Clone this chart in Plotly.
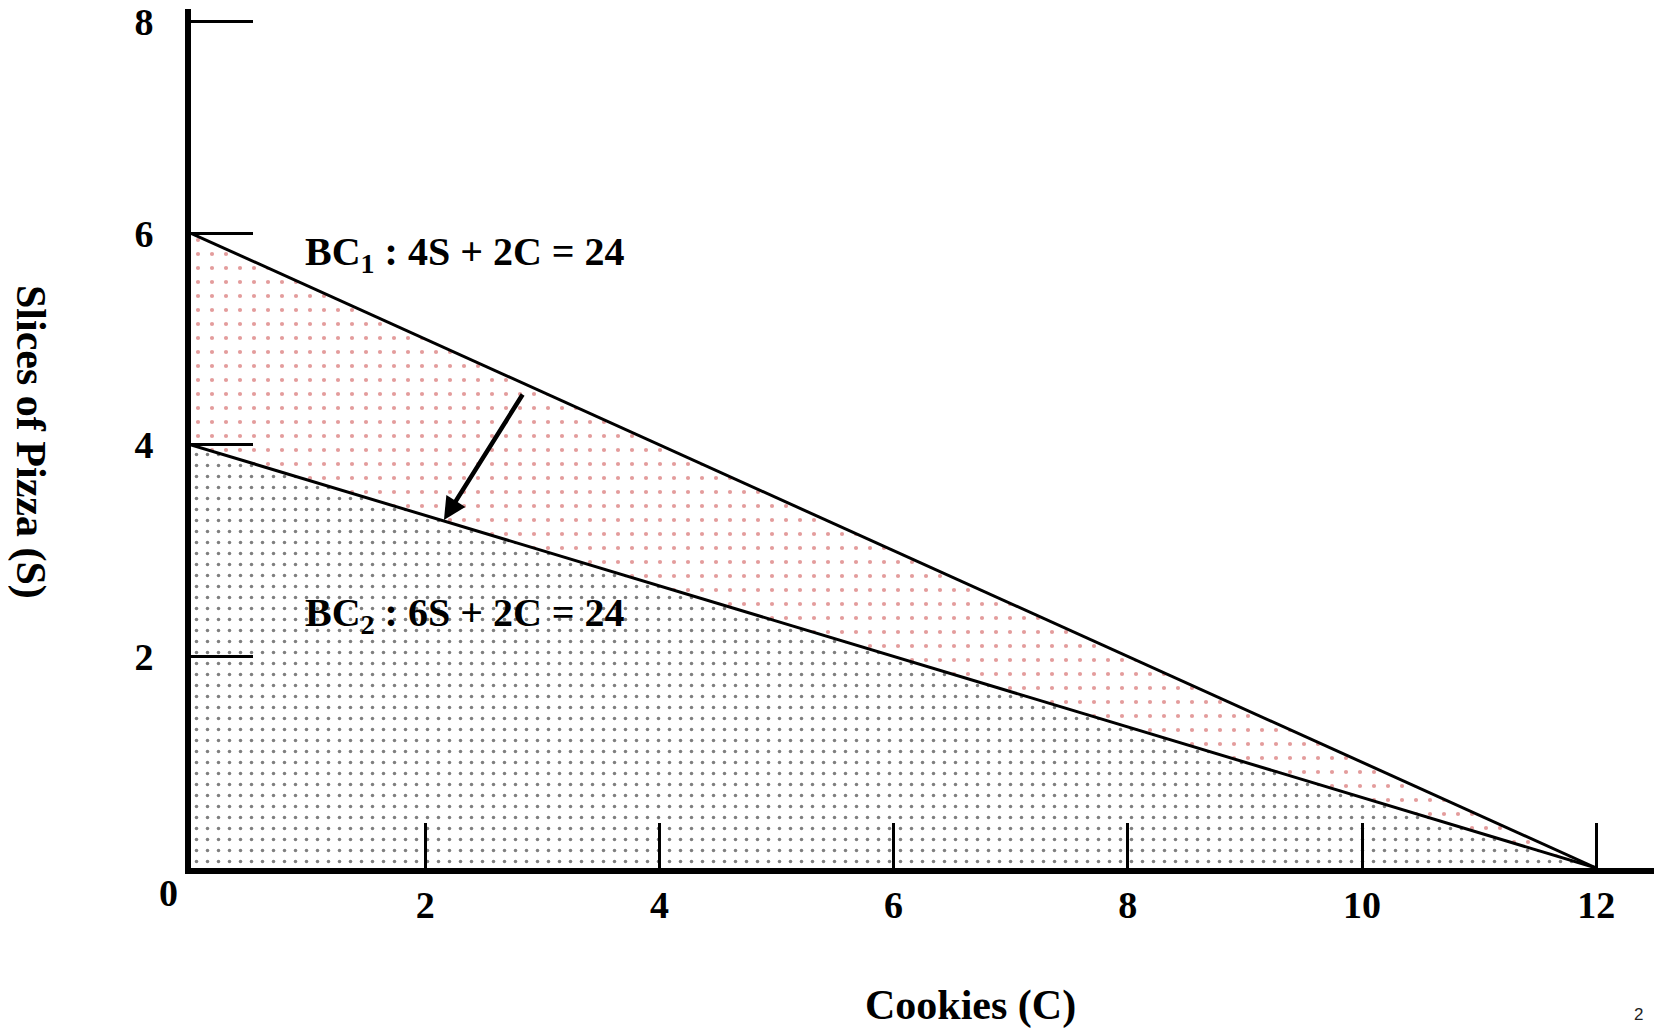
import plotly.graph_objects as go

# budget constraint end points (cookies on x, pizza slices on y)
cookies = [0, 12]
pizza_bc1 = [6, 0]
pizza_bc2 = [4, 0]

x_ticks = [2, 4, 6, 8, 10, 12]
y_ticks = [2, 4, 6, 8]

bc1_label = "BC<sub>1</sub> : 4S + 2C = 24"
bc2_label = "BC<sub>2</sub> : 6S + 2C = 24"

SERIF = "Liberation Serif"
RED = "#c83a3a"

# layout geometry (pixels, figure coords; page body adds 8px offset)
W, H = 1662, 1029
ML, MR, MT, MB = 183, 11, 1, 169
PW = W - ML - MR
PH = H - MT - MB
OFF = 8

fig = go.Figure()

fig.add_trace(go.Scatter(
    x=cookies, y=pizza_bc2, mode="lines",
    line=dict(color="black", width=3),
    fill="tozeroy", fillcolor="white",
    fillpattern=dict(shape=".", fgcolor="black", bgcolor="white",
                     size=11, solidity=0.08),
    showlegend=False, hoverinfo="skip"))

fig.add_trace(go.Scatter(
    x=cookies, y=pizza_bc1, mode="lines",
    line=dict(color="black", width=3),
    fill="tonexty", fillcolor="white",
    fillpattern=dict(shape=".", fgcolor=RED, bgcolor="white",
                     size=14, solidity=0.07),
    showlegend=False, hoverinfo="skip"))

font_ticks = dict(family=SERIF, size=38, color="black", weight="bold")
font_label = dict(family=SERIF, size=40, color="black", weight="bold")
font_big = dict(family=SERIF, size=42, color="black", weight="bold")

fig.update_xaxes(
    range=[0, 12.536], tickvals=x_ticks, ticks="inside", ticklen=45,
    tickwidth=3, tickcolor="black", showline=True, linewidth=6,
    linecolor="black", showgrid=False, zeroline=False, automargin=False,
    tickfont=font_ticks, ticklabelstandoff=-2, ticklabeloverflow="allow")

fig.update_yaxes(
    range=[0, 8.12], tickvals=y_ticks, ticks="inside", ticklen=62,
    tickwidth=3, tickcolor="black", showline=True, linewidth=6,
    linecolor="black", showgrid=False, zeroline=False, automargin=False,
    tickfont=font_ticks, ticklabelstandoff=24, ticklabeloverflow="allow")


def px_x(px):
    # window pixel -> paper x
    return (px - OFF - ML) / PW


def px_y(py):
    # window pixel -> paper y
    return (H - MB - (py - OFF)) / PH


annotations = [
    # budget line labels
    dict(x=0.96, y=5.8, xref="x", yref="y", text=bc1_label, showarrow=False,
         xanchor="left", yanchor="middle", font=font_label),
    dict(x=0.96, y=2.39, xref="x", yref="y", text=bc2_label, showarrow=False,
         xanchor="left", yanchor="middle", font=font_label),
    # arrow showing the shift
    dict(x=2.16, y=3.29, ax=2.84, ay=4.49, xref="x", yref="y", axref="x", ayref="y",
         text="", showarrow=True, arrowhead=2, arrowsize=1, arrowwidth=4.5,
         arrowcolor="black"),
    # origin label
    dict(x=px_x(168), y=px_y(893), xref="paper", yref="paper", text="0",
         showarrow=False, xanchor="center", yanchor="middle", font=font_ticks),
    # axis titles
    dict(x=px_x(970), y=px_y(1005), xref="paper", yref="paper", text="Cookies (C)",
         showarrow=False, xanchor="center", yanchor="middle", font=font_big),
    dict(x=px_x(31), y=px_y(442), xref="paper", yref="paper", text="Slices of Pizza (S)",
         showarrow=False, xanchor="center", yanchor="middle", textangle=90,
         font=font_big),
    # page number
    dict(x=px_x(1638), y=px_y(1014), xref="paper", yref="paper", text="2",
         showarrow=False, xanchor="center", yanchor="middle",
         font=dict(family="Liberation Sans", size=17, color="#222222")),
]

fig.update_layout(
    width=W, height=H,
    margin=dict(l=ML, r=MR, t=MT, b=MB, pad=0, autoexpand=False),
    paper_bgcolor="white", plot_bgcolor="white",
    annotations=annotations,
)

fig.write_html("out.html")
